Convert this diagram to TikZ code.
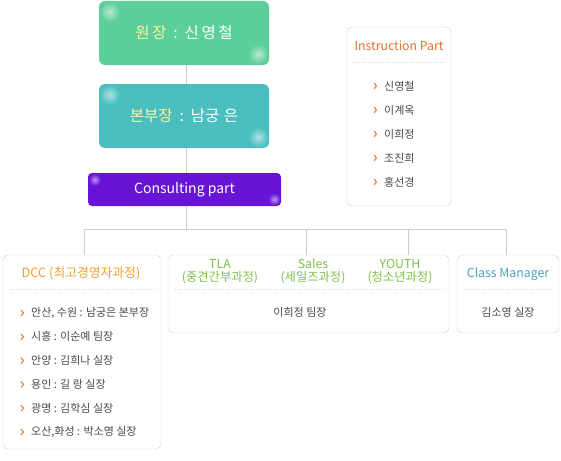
\documentclass[tikz,border=0pt]{standalone}
\usepackage{fontspec}
\setmainfont{Noto Sans CJK KR}
\usetikzlibrary{positioning}

\definecolor{wongreen}{HTML}{5DCF9B}
\definecolor{bonbuteal}{HTML}{4BBFBF}
\definecolor{consultpurple}{HTML}{6814D6}
\definecolor{paleyellow}{HTML}{FFF3A0}
\definecolor{panelgray}{HTML}{D2D2D2}
\definecolor{linegray}{HTML}{CCCCCC}
\definecolor{itemgray}{HTML}{4A4A4A}
\definecolor{dccorange}{HTML}{F5A02A}
\definecolor{instorange}{HTML}{E8702A}
\definecolor{chevorange}{HTML}{F07A1A}
\definecolor{coursegreen}{HTML}{7DC24B}
\definecolor{classblue}{HTML}{4BA3C3}

\tikzset{
  glow/.style={inner color=white!55!#1, outer color=#1},
  headbox/.style={fill=#1, rounded corners=6pt, minimum width=170pt,
    minimum height=64pt, inner sep=0pt, text=white, font=\fontsize{15.5}{17}\selectfont},
  panel/.style={draw=panelgray, fill=white, rounded corners=5pt, inner sep=0pt},
  title/.style={inner sep=0pt, font=\fontsize{12.3}{13}\selectfont, align=center},
  item/.style={anchor=west, inner sep=0pt, text=itemgray, font=\fontsize{11}{12}\selectfont},
  chevron/.style={draw=chevorange, line width=1pt},
  sep/.style={draw=panelgray, dash pattern=on 1pt off 2pt},
  link/.style={draw=linegray, line width=0.8pt}
}

\begin{document}
\begin{tikzpicture}[x=1pt, y=-1pt]
    \useasboundingbox (0,0) rectangle (561,460);

    % top of the chart
    \node[headbox=wongreen] (won) at (184,33) {};
    \node[headbox=bonbuteal] (bonbu) at (184,116) {};
    \node[fill=consultpurple, rounded corners=4pt, minimum width=193pt, minimum height=33pt,
        inner sep=0pt] (consult) at (184.5,189.5) {};
    \shade[glow=wongreen] ([shift={(11pt,-11pt)}]won.north west) circle (10pt);
    \shade[glow=wongreen] ([shift={(-11pt,11pt)}]won.south east) circle (10pt);
    \shade[glow=bonbuteal] ([shift={(11pt,-11pt)}]bonbu.north west) circle (10pt);
    \shade[glow=bonbuteal] ([shift={(-11pt,11pt)}]bonbu.south east) circle (10pt);
    \shade[glow=consultpurple] ([shift={(7pt,-7pt)}]consult.north west) circle (6pt);
    \shade[glow=consultpurple] ([shift={(-7pt,7pt)}]consult.south east) circle (6pt);
    \node[text=white, font=\fontsize{15.5}{17}\selectfont] (wontext) at (won)
        {\textcolor{paleyellow}{원\,장}\ \ :\ \ 신\,영\,철};
    \node[text=white, font=\fontsize{15.5}{17}\selectfont] (bonbutext) at (bonbu)
        {\textcolor{paleyellow}{본부장}\ \ :\ \ 남궁\;은};
    \node[text=white, font=\fontsize{14}{15}\selectfont] (consulttext) at (consult)
        {Consulting part};

    % lower panels
    \node[panel, minimum width=104pt, minimum height=179pt] (inst) at (399,116.5) {};
    \node[panel, minimum width=158pt, minimum height=194pt] (dcc) at (82,352) {};
    \node[panel, minimum width=281pt, minimum height=78pt] (course) at (308.5,294) {};
    \node[panel, minimum width=102pt, minimum height=78pt] (class) at (508,294) {};

    % connectors
    \coordinate (bus) at (186,229);
    \coordinate (busleft) at (84,229);
    \coordinate (busright) at (506,229);
    \coordinate (salesdrop) at (306,229);
    \coordinate (youthdrop) at (408,229);
    \draw[link] (won.south -| bus) -- (bonbu.north -| bus);
    \draw[link] (bonbu.south -| bus) -- (consult.north -| bus);
    \draw[link] (consult.south -| bus) -- (bus);
    \draw[link] (busleft) -- (busright);
    \draw[link] (busleft) -- (busleft |- dcc.north);
    \draw[link] (salesdrop) -- (salesdrop |- course.north);
    \draw[link] (youthdrop) -- (youthdrop |- course.north);
    \draw[link] (busright) -- (busright |- class.north);

    % instruction part
    \node[title, text=instorange] (insttitle) at (399,46) {Instruction Part};
    \draw[sep] (353,62) -- (445,62);
    \foreach \who [count=\i] in {신영철, 이계옥, 이희정, 조진희, 홍선경} {
        \draw[chevron] (374,86+24*\i-27) -- ++(2.5,3) -- ++(-2.5,3);
        \node[item] (inst-\i) at (384,86+24*\i-24) {\who};
    }

    % dcc
    \node[title, text=dccorange, font=\fontsize{12.8}{13}\selectfont] (dcctitle) at (81,273)
        {DCC (최고경영자과정)};
    \draw[sep] (10,289) -- (156,289);
    \foreach \who [count=\i] in {{안산, 수원 : 남궁은 본부장}, {시흥 : 이순예 팀장},
        {안양 : 김희나 실장}, {용인 : 길 랑 실장}, {광명 : 김학심 실장},
        {오산,화성 : 박소영 실장}} {
        \draw[chevron] (21,313+23.8*\i-26.8) -- ++(2.5,3) -- ++(-2.5,3);
        \node[item] (dcc-\i) at (31,313+23.8*\i-23.8) {\who};
    }

    % course panel
    \node[title, text=coursegreen] (tla) at (220,271.5) {TLA\\(중견간부과정)};
    \node[title, text=coursegreen] (sales) at (313,271.5) {Sales\\(세일즈과정)};
    \node[title, text=coursegreen] (youth) at (400,271.5) {YOUTH\\(청소년과정)};
    \draw[sep] (175,289) -- (443,289);
    \node[item, anchor=center] (courselead) at (300,312) {이희정 팀장};

    % class manager
    \node[title, text=classblue] (classtitle) at (508,274) {Class Manager};
    \draw[sep] (464,289) -- (553,289);
    \node[item, anchor=center] (classlead) at (508,312) {김소영 실장};
\end{tikzpicture}
\end{document}
